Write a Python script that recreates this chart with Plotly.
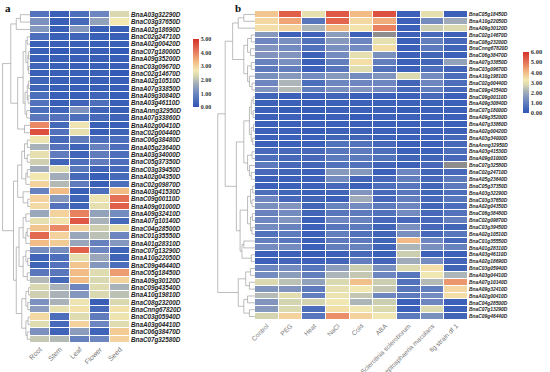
import numpy as np
import plotly.graph_objects as go

# ---------------- data: panel a (tissues) ----------------
tissues = ["Root", "Stem", "Leaf", "Flower", "Seed"]
genes_a = ["BnaA03g32290D", "BnaC03g37650D", "BnaA02g18690D", "BnaC02g24710D", "BnaA02g00420D",
           "BnaC07g18000D", "BnaA09g35200D", "BnaC03g09670D", "BnaC02g14670D", "BnaA02g10510D",
           "BnaA07g33850D", "BnaA09g30840D", "BnaA03g46110D", "BnaAnng32950D", "BnaA07g33860D",
           "BnaA02g00410D", "BnaC02g00440D", "BnaC06g38480D", "BnaA05g23640D", "BnaA03g34000D",
           "BnaC05g37350D", "BnaC03g39450D", "BnaA02g04350D", "BnaC02g09870D", "BnaA03g41530D",
           "BnaC09g00110D", "BnaA09g01000D", "BnaA09g32410D", "BnaA07g10140D", "BnaC04g28500D",
           "BnaC01g35550D", "BnaA01g28310D", "BnaC07g13290D", "BnaA10g22050D", "BnaC09g46440D",
           "BnaC05g18450D", "BnaA09g30120D", "BnaC09g43540D", "BnaA10g19810D", "BnaC08g23200D",
           "BnaCnng67820D", "BnaC03g05940D", "BnaA03g04410D", "BnaC06g38470D", "BnaC07g32580D"]
root = [0.6, 1.2, 1.3, 0.5, 0.2, 0.2, 0.2, 0.3, 0.2, 0.3, 0.3, 0.5, 0.6, 0.5, 0.7, 3.9, 4.6, 2.6, 1.8, 2.5,
        2.2, 1.7, 2.7, 3.0, 0.9, 3.0, 2.9, 1.6, 2.5, 3.2, 4.3, 3.3, 1.1, 0.3, 0.3, 0.7, 1.9, 2.3, 2.2, 1.2,
        1.4, 2.9, 2.4, 1.2, 2.1]
stem = [0.2, 0.2, 0.2, 0.2, 0.2, 0.1, 0.2, 0.2, 0.2, 0.2, 0.2, 0.2, 0.2, 0.3, 0.6, 0.4, 0.6, 0.4, 0.6, 0.8,
        0.3, 2.4, 1.7, 1.9, 3.3, 1.3, 0.6, 3.0, 2.8, 3.9, 3.0, 3.1, 1.1, 0.5, 0.6, 0.7, 0.4, 1.8, 1.8, 1.8,
        2.5, 0.5, 0.4, 0.3, 1.9]
leaf = [0.5, 0.4, 1.3, 0.3, 0.2, 0.2, 0.2, 0.2, 0.2, 0.2, 0.2, 0.2, 0.3, 1.2, 0.5, 2.6, 2.5, 0.8, 0.3, 0.3,
        0.5, 0.7, 0.4, 0.8, 0.2, 0.3, 0.3, 4.0, 4.5, 3.0, 1.6, 1.6, 4.4, 2.5, 3.2, 3.3, 3.3, 1.0, 1.3, 2.6,
        2.8, 2.4, 3.0, 1.4, 0.9]
flower = [1.0, 1.5, 0.2, 0.2, 0.2, 0.2, 0.2, 0.2, 0.2, 0.2, 0.2, 0.3, 0.5, 0.3, 0.4, 0.2, 0.2, 0.5, 0.9, 0.8,
          0.8, 0.3, 0.2, 0.2, 0.5, 2.6, 2.5, 1.5, 1.8, 2.2, 2.0, 0.9, 1.0, 1.6, 1.3, 2.4, 2.3, 2.4, 2.3, 0.2,
          0.4, 0.8, 1.0, 0.3, 1.0]
seed = [2.3, 2.7, 0.2, 0.2, 0.2, 0.1, 0.2, 0.2, 0.1, 0.2, 0.2, 0.2, 0.2, 0.2, 0.3, 0.2, 0.3, 0.5, 0.5, 0.5,
        0.5, 0.4, 0.4, 0.5, 3.3, 4.2, 4.4, 1.1, 0.4, 2.5, 1.0, 1.3, 0.3, 0.3, 0.5, 3.7, 3.0, 1.8, 2.0, 2.3,
        2.8, 2.6, 2.4, 3.1, 3.0]

# ---------------- data: panel b (treatments) ----------------
treatments = ["Control", "PEG", "Heat", "NaCl", "Cold", "ABA",
              "Sclerotinia sclerotiorum", "Leptosphaeria maculans", "flg strain df 1"]
genes_b = ["BnaC05g18450D", "BnaA10g22050D", "BnaA09g30120D", "BnaC02g14670D", "BnaC08g23200D",
           "BnaCnng67820D", "BnaC06g38470D", "BnaA07g33850D", "BnaC03g09670D", "BnaA10g19810D",
           "BnaC02g00440D", "BnaC09g43540D", "BnaC09g00110D", "BnaA09g30840D", "BnaC07g18000D",
           "BnaA09g35200D", "BnaA07g33860D", "BnaA02g00420D", "BnaA03g34000D", "BnaAnng32950D",
           "BnaA03g41530D", "BnaA09g01000D", "BnaC07g32580D", "BnaC02g24710D", "BnaA05g23640D",
           "BnaC05g37350D", "BnaA03g32290D", "BnaC03g37650D", "BnaA02g04350D", "BnaC06g38480D",
           "BnaC02g09870D", "BnaC03g39450D", "BnaA02g10510D", "BnaC01g35550D", "BnaA01g28310D",
           "BnaA03g46110D", "BnaA02g18690D", "BnaC03g05940D", "BnaA03g04410D", "BnaA07g10140D",
           "BnaA09g32410D", "BnaA02g00410D", "BnaC04g28500D", "BnaC07g13290D", "BnaC09g46440D"]
nan = float("nan")
control = [3.8, 3.5, 3.4, 1.6, 1.2, 1.5, 1.5, 1.1, 0.9, 1.4, 1.2, 1.5, 0.4, 0.3, 0.3, 0.3, 0.3, 0.3, 0.3, 0.3,
           0.5, 0.6, 0.9, 0.5, 0.3, 0.3, 0.6, 1.2, 1.4, 1.1, 1.2, 1.3, 0.7, 1.0, 1.3, 0.3, 0.3, 1.2, 1.3, 2.8,
           1.5, 2.3, 1.5, 1.6, 2.7]
peg = [5.3, 4.3, 3.6, 0.3, 1.4, 1.3, 1.5, 1.4, 1.0, 1.6, 2.2, 2.3, 0.3, 0.3, 0.2, 0.3, 0.3, 0.3, 0.3, 0.3,
       0.5, 0.5, 0.5, 0.4, 0.3, 0.3, 0.4, 0.5, 1.5, 1.3, 1.5, 1.1, 0.9, 0.8, 1.3, 0.3, 0.4, 1.3, 1.7, 2.4,
       1.5, 2.9, 2.7, 2.8, 3.6]
heat = [3.0, 0.8, 2.2, 0.3, 0.7, 0.7, 0.3, 0.3, 0.3, 1.3, 0.6, 1.0, 0.3, 0.2, 0.2, 0.2, 0.3, 0.2, 0.3, 0.3,
        0.5, 0.5, 0.4, 0.3, 0.3, 0.3, 0.3, 0.4, 0.4, 0.4, 0.3, 0.3, 0.3, 0.3, 0.3, 0.2, 0.3, 0.8, 1.0, 1.8,
        0.9, 1.0, 2.7, 0.6, 0.8]
nacl = [5.4, 5.2, 4.0, 1.7, 1.6, 1.4, 1.3, 1.0, 0.8, 1.6, 1.2, 1.4, 0.4, 0.3, 0.3, 0.3, 0.3, 0.3, 0.4, 0.7,
        0.8, 0.9, 0.7, 1.6, 1.3, 0.5, 0.4, 0.3, 1.1, 0.8, 1.2, 0.8, 1.0, 0.9, 1.0, 0.3, 0.4, 1.7, 2.2, 2.8,
        3.0, 3.1, 3.2, 3.4, 4.6]
cold = [4.0, 3.5, 3.3, 0.3, 1.2, 1.3, 3.0, 3.4, 2.9, 1.3, 1.2, 1.5, 0.3, 0.3, 0.3, 0.2, 0.3, 0.3, 0.4, 0.7,
        0.9, 0.9, 0.7, 1.6, 0.4, 0.3, 1.5, 2.0, 1.3, 0.9, 1.1, 0.9, 0.7, 0.9, 1.1, 0.5, 1.0, 2.6, 2.5, 3.9,
        3.2, 2.5, 2.2, 3.2, 3.6]
aba = [5.5, 4.2, 4.8, nan, 3.0, 3.4, 1.4, 1.0, 0.7, 1.5, 1.2, 1.3, 0.3, 0.3, 0.3, 0.3, 0.3, 0.3, 0.3, 0.5,
       0.6, 0.7, 0.4, 0.3, 0.5, 0.6, 0.5, 0.5, 0.9, 0.7, 0.5, 0.4, 0.4, 0.4, 0.4, 0.3, 0.4, 1.4, 1.2, 2.6,
       2.5, 1.2, 2.6, 2.8, 3.2]
sclerotinia = [0.3, 0.3, 0.3, 0.3, 0.3, 0.3, 0.3, 0.3, 0.3, 2.8, 0.4, 0.5, 0.3, 0.3, 0.2, 0.3, 0.3, 0.3, 0.3, 0.3,
               0.3, 0.4, 0.3, 1.2, 1.0, 0.8, 0.8, 1.0, 1.2, 1.3, 0.5, 1.4, 1.4, 4.0, 2.2, 2.6, 2.0, 2.8, 0.8, 0.7,
               0.8, 0.9, 0.3, 0.3, 0.9]
leptosphaeria = [3.0, 1.3, 2.6, 0.5, 1.0, 0.9, 0.4, 0.4, 0.6, 1.3, 1.2, 1.0, 0.5, 0.3, 0.3, 0.3, 0.3, 0.3, 0.3, 0.3,
                 0.3, 0.4, 0.5, 0.4, 0.5, 0.4, 0.4, 0.5, 0.4, 0.5, 0.5, 0.5, 0.5, 1.2, 1.4, 0.3, 1.3, 3.4, 3.2, 2.3,
                 1.0, 1.3, 1.2, 2.8, 1.4]
flg = [0.3, 2.0, 2.8, 0.3, 0.5, 0.4, 0.3, 1.8, 0.4, 0.6, 0.6, 0.5, 0.3, 0.3, 0.3, 0.3, 0.3, 0.3, 0.5, 0.5,
       0.6, 0.5, nan, 0.5, 0.9, 0.9, 0.6, 0.8, 0.6, 0.7, 1.0, 0.4, 0.8, 0.5, 1.1, 0.3, 0.4, 0.4, 2.2, 4.5,
       3.5, 3.4, 0.3, 0.3, 0.4]

# ---------------- dendrogram topologies (leaf = row index, node = (left, right, height)) ----------------
a_top = (((0, 1, 0.35), 2, 0.5),
         (((((3, 4, 0.1), ((5, 6, 0.05), (7, 8, 0.05), 0.08), 0.15),
            (((9, 10, 0.06), (11, 12, 0.07), 0.1), (13, 14, 0.12), 0.18), 0.25)),
          (15, 16, 0.2), 0.45), 0.7)
a_g1 = (((17, 18, 0.1), (19, 20, 0.1), 0.2), ((21, 22, 0.1), 23, 0.15), 0.3)
a_g2 = (24, (25, 26, 0.08), 0.25)
a_g3 = ((27, 28, 0.15), ((29, 30, 0.1), 31, 0.15), 0.25)
a_g4 = ((32, (33, 34, 0.08), 0.15), (35, 36, 0.1), 0.25)
a_g5 = (((37, 38, 0.05), (39, 40, 0.08), 0.15), ((41, 42, 0.07), (43, 44, 0.1), 0.15), 0.3)
a_tree = (a_top, ((a_g1, a_g2, 0.45), ((a_g3, a_g4, 0.4), a_g5, 0.5), 0.6), 1.0)

b_top = (((0, 1, 0.3), 2, 0.45),
         (((3, 4, 0.1), (5, 6, 0.12), 0.2), ((7, 8, 0.1), (9, (10, 11, 0.08), 0.15), 0.2), 0.3), 0.6)
b_blue = ((((12, 13, 0.05), (14, 15, 0.05), 0.1), ((16, 17, 0.04), (18, 19, 0.06), 0.1), 0.15),
          ((20, 21, 0.08), (22, (23, 24, 0.1), 0.15), 0.2), 0.3)
b_mid = ((((25, 26, 0.06), (27, 28, 0.08), 0.12), ((29, 30, 0.07), (31, 32, 0.08), 0.12), 0.2),
         ((33, 34, 0.3), (35, 36, 0.1), 0.35), 0.4)
b_bot = (((37, 38, 0.12), (39, 40, 0.15), 0.25), ((41, 42, 0.2), (43, 44, 0.15), 0.3), 0.45)
b_tree = ((b_top, (b_blue, b_mid, 0.5), 0.8), b_bot, 1.0)


def dendro(node, xs, ys):
    if isinstance(node, int):
        return float(node), 0.0
    l, r, h = node
    yl, hl = dendro(l, xs, ys)
    yr, hr = dendro(r, xs, ys)
    xs += [hl, h, h, hr, None]
    ys += [yl, yl, yr, yr, None]
    return (yl + yr) / 2, h


W, H = 550, 372
def px(x): return x / W
def py(y): return 1 - y / H

cscale = [[0.0, "#2d55b5"], [0.2, "#6d86bf"], [0.36, "#a9b2b8"], [0.46, "#d9d8b0"],
          [0.54, "#f3e8b2"], [0.68, "#f2b580"], [0.82, "#e6785a"], [1.0, "#d5302a"]]

za = np.array([root, stem, leaf, flower, seed]).T
zb = np.array([control, peg, heat, nacl, cold, aba, sclerotinia, leptosphaeria, flg]).T

fig = go.Figure()

fig.add_trace(go.Heatmap(z=za, x=list(range(len(tissues))), y=list(range(len(genes_a))),
                         zmin=0, zmax=5, colorscale=cscale, xgap=1, ygap=1,
                         xaxis="x", yaxis="y",
                         colorbar=dict(x=px(193), xanchor="left", y=py(73), yanchor="middle",
                                       len=68 / H, thickness=6, outlinewidth=0, xpad=0, ypad=0,
                                       tickvals=[0, 1, 2, 3, 4, 5], tickformat=".2f",
                                       tickfont=dict(family="Liberation Serif", size=6, color="#333333",
                                                     weight="bold"),
                                       ticks="")))
fig.add_trace(go.Heatmap(z=zb, x=list(range(len(treatments))), y=list(range(len(genes_b))),
                         zmin=0, zmax=6, colorscale=cscale, xgap=1, ygap=1,
                         xaxis="x3", yaxis="y3",
                         colorbar=dict(x=px(523), xanchor="left", y=py(82.5), yanchor="middle",
                                       len=61 / H, thickness=6, outlinewidth=0, xpad=0, ypad=0,
                                       tickvals=[0, 1, 2, 3, 4, 5, 6], tickformat=".2f",
                                       tickfont=dict(family="Liberation Serif", size=6.5, color="#333333",
                                                     weight="bold"),
                                       ticks="")))
# missing values drawn grey
na_mask = np.where(np.isnan(zb), 1.0, np.nan)
fig.add_trace(go.Heatmap(z=na_mask, x=list(range(len(treatments))), y=list(range(len(genes_b))),
                         colorscale=[[0, "#8d8d8d"], [1, "#8d8d8d"]], showscale=False,
                         xgap=1, ygap=1, xaxis="x3", yaxis="y3", hoverinfo="skip"))

for tree, xa, ya in [(a_tree, "x2", "y2"), (b_tree, "x4", "y4")]:
    xs, ys = [], []
    dendro(tree, xs, ys)
    fig.add_trace(go.Scatter(x=xs, y=ys, mode="lines", xaxis=xa, yaxis=ya,
                             line=dict(color="#a0a0a0", width=0.7), showlegend=False, hoverinfo="skip"))

xt_font = dict(family="Liberation Sans", size=7, color="#777777")
ax_common = dict(showgrid=False, zeroline=False, showline=False, ticks="", automargin=False)
dom_a_y = [py(343), py(11)]
dom_b_y = [py(320), py(11)]

fig.update_layout(
    width=W, height=H, autosize=False, margin=dict(l=0, r=0, t=0, b=0, autoexpand=False),
    paper_bgcolor="white", plot_bgcolor="white", showlegend=False,
    xaxis=dict(domain=[px(30), px(130)], anchor="y", range=[-0.5, 4.5],
               tickvals=list(range(5)), ticktext=tissues, tickangle=-45, tickfont=xt_font, **ax_common),
    yaxis=dict(domain=dom_a_y, anchor="x", range=[44.5, -0.5], side="right",
               tickvals=list(range(45)), ticktext=genes_a,
               tickfont=dict(family="Liberation Sans", size=6.3, color="#222222", weight="bold", style="italic"),
               **ax_common),
    xaxis2=dict(domain=[px(2), px(30)], anchor="y2", range=[1.02, 0], visible=False),
    yaxis2=dict(domain=dom_a_y, anchor="x2", range=[44.5, -0.5], visible=False),
    xaxis3=dict(domain=[px(255), px(468)], anchor="y3", range=[-0.5, 8.5],
                tickvals=list(range(9)), ticktext=treatments, tickangle=-45,
                tickfont=dict(family="Liberation Sans", size=6.5, color="#777777"), **ax_common),
    yaxis3=dict(domain=dom_b_y, anchor="x3", range=[44.5, -0.5], side="right",
                tickvals=list(range(45)), ticktext=genes_b,
                tickfont=dict(family="Liberation Sans", size=4.9, color="#222222", weight="bold", style="italic"),
                **ax_common),
    xaxis4=dict(domain=[px(217), px(255)], anchor="y4", range=[1.02, 0], visible=False),
    yaxis4=dict(domain=dom_b_y, anchor="x4", range=[44.5, -0.5], visible=False),
    annotations=[
        dict(text="<b>a</b>", x=px(3), y=py(8), xref="paper", yref="paper", showarrow=False,
             xanchor="left", yanchor="middle", font=dict(family="Liberation Serif", size=11, color="#111111")),
        dict(text="<b>b</b>", x=px(233), y=py(8), xref="paper", yref="paper", showarrow=False,
             xanchor="left", yanchor="middle", font=dict(family="Liberation Serif", size=11, color="#111111")),
    ],
)

# remove the browser's default 8px page margin so the figure sits at the window origin
fig.write_html("out.html", config={"displayModeBar": False},
               post_script="document.body.style.margin='0px';")
